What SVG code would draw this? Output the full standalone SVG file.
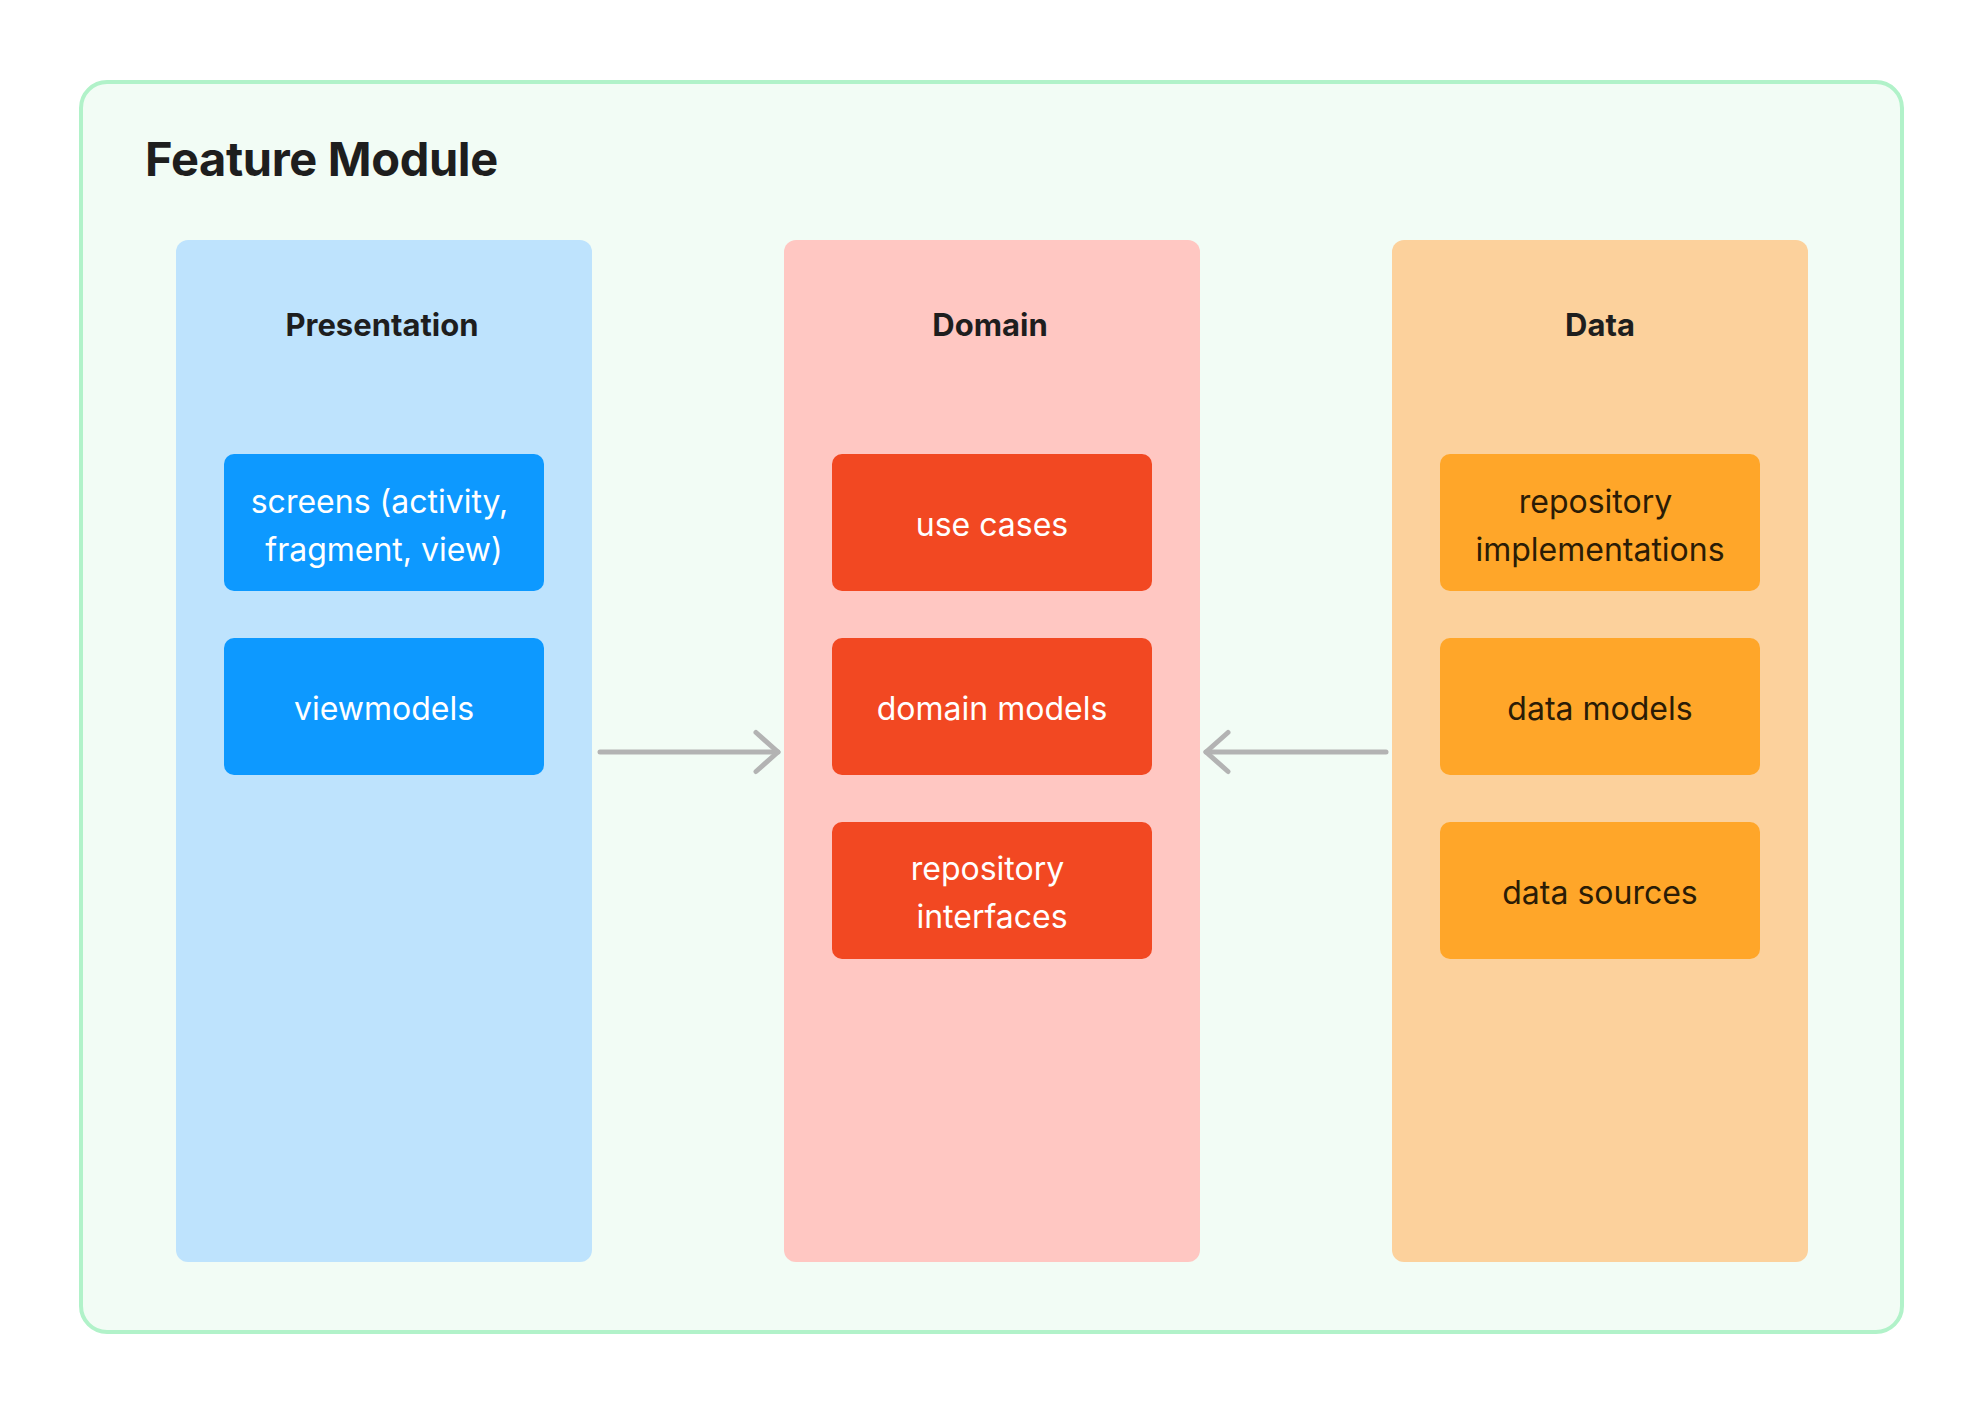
<svg xmlns="http://www.w3.org/2000/svg" width="1984" height="1415" viewBox="0 0 1984 1415">
  <style>
    .frame { fill: #f2fcf5; stroke: #b1f2c9; stroke-width: 4; }
    .title { font-family: Inter, "Liberation Sans", sans-serif; font-weight: 700; font-size: 47px; fill: #1e1e1e; letter-spacing: -0.35px; }
    .col-title { font-family: Inter, "Liberation Sans", sans-serif; font-weight: 700; font-size: 31px; fill: #1e1e1e; text-anchor: middle; }
    .item { font-family: Inter, "Liberation Sans", sans-serif; font-weight: 400; font-size: 32px; text-anchor: middle; }
    .pres-col { fill: #bee3fd; }
    .dom-col { fill: #ffc7c2; }
    .data-col { fill: #fcd19c; }
    .pres-box { fill: #0d99ff; }
    .dom-box { fill: #f24822; }
    .data-box { fill: #ffa629; }
    .light { fill: #ffffff; }
    .dark { fill: #2b1c06; }
    .conn { stroke: #b3b3b3; stroke-width: 5; stroke-linecap: round; fill: none; }
  </style>
  <defs>
    <marker id="chev" viewBox="-28 -26 34 52" refX="0" refY="0" markerWidth="34" markerHeight="52" markerUnits="userSpaceOnUse" orient="auto" overflow="visible">
      <path d="M -22 -19.5 L 0 0 L -22 19.5" fill="none" stroke="#b3b3b3" stroke-width="5" stroke-linecap="round" stroke-linejoin="round"/>
    </marker>
  </defs>

  <rect width="1984" height="1415" fill="#ffffff"/>

  <g id="feature-module">
    <rect class="frame" x="81" y="82" width="1821" height="1250" rx="26"/>
    <text class="title" x="145" y="176">Feature Module</text>
  </g>

  <g id="presentation">
    <rect class="pres-col" x="176" y="240" width="416" height="1022" rx="12"/>
    <text class="col-title" x="382" y="336">Presentation</text>
  </g>
  <g id="screens">
    <rect class="pres-box" x="224" y="454" width="320" height="137" rx="10"/>
    <text class="item light" x="379.5" y="512.5">screens (activity,</text>
    <text class="item light" x="384" y="560.5">fragment, view)</text>
  </g>
  <g id="viewmodels">
    <rect class="pres-box" x="224" y="638" width="320" height="137" rx="10"/>
    <text class="item light" x="384" y="720">viewmodels</text>
  </g>

  <g id="domain">
    <rect class="dom-col" x="784" y="240" width="416" height="1022" rx="12"/>
    <text class="col-title" x="990" y="336">Domain</text>
  </g>
  <g id="use-cases">
    <rect class="dom-box" x="832" y="454" width="320" height="137" rx="10"/>
    <text class="item light" x="992" y="536">use cases</text>
  </g>
  <g id="domain-models">
    <rect class="dom-box" x="832" y="638" width="320" height="137" rx="10"/>
    <text class="item light" x="992" y="720">domain models</text>
  </g>
  <g id="repository-interfaces">
    <rect class="dom-box" x="832" y="822" width="320" height="137" rx="10"/>
    <text class="item light" x="987.5" y="880">repository</text>
    <text class="item light" x="992" y="928">interfaces</text>
  </g>

  <g id="data">
    <rect class="data-col" x="1392" y="240" width="416" height="1022" rx="12"/>
    <text class="col-title" x="1600" y="336">Data</text>
  </g>
  <g id="repository-implementations">
    <rect class="data-box" x="1440" y="454" width="320" height="137" rx="10"/>
    <text class="item dark" x="1595.5" y="512.5">repository</text>
    <text class="item dark" x="1600" y="560.5">implementations</text>
  </g>
  <g id="data-models">
    <rect class="data-box" x="1440" y="638" width="320" height="137" rx="10"/>
    <text class="item dark" x="1600" y="720">data models</text>
  </g>
  <g id="data-sources">
    <rect class="data-box" x="1440" y="822" width="320" height="137" rx="10"/>
    <text class="item dark" x="1600" y="904">data sources</text>
  </g>

  <g id="connectors">
    <path class="conn" d="M 600 752 L 778 752" marker-end="url(#chev)"/>
    <path class="conn" d="M 1386 752 L 1206 752" marker-end="url(#chev)"/>
  </g>
</svg>
